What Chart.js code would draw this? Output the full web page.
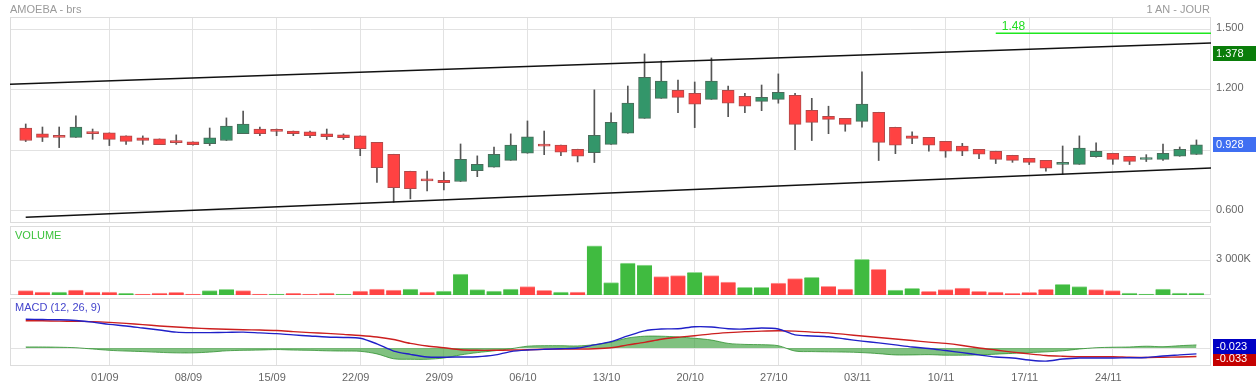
<!DOCTYPE html>
<html><head><meta charset="utf-8">
<script src="https://cdn.jsdelivr.net/npm/chart.js@4.4.1/dist/chart.umd.min.js"></script>
<style>
html,body{margin:0;padding:0;background:#fff;width:1256px;height:387px;overflow:hidden;font-family:"Liberation Sans",Arial,sans-serif;}
canvas{position:absolute;left:0;}
.lbl{position:absolute;font-size:11px;line-height:13px;white-space:nowrap;}
</style>
</head><body>
<canvas id="cMain" width="1256" height="225" style="top:0px"></canvas>
<canvas id="cVol" width="1256" height="72" style="top:225px"></canvas>
<canvas id="cMacd" width="1256" height="90" style="top:297px"></canvas>
<div class="lbl" style="left:10px;top:3px;color:#9a9a9a">AMOEBA - brs</div>
<div class="lbl" style="right:46px;top:3px;color:#9a9a9a">1 AN - JOUR</div>
<div class="lbl" style="left:15px;top:229px;color:#3cc23c">VOLUME</div>
<div class="lbl" style="left:15px;top:301px;color:#4444cc">MACD (12, 26, 9)</div>
<script>
// ---------- DATA ----------
const dates = ['25/08','26/08','27/08','28/08','29/08',
'01/09','02/09','03/09','04/09','05/09',
'08/09','09/09','10/09','11/09','12/09',
'15/09','16/09','17/09','18/09','19/09',
'22/09','23/09','24/09','25/09','26/09',
'29/09','30/09','01/10','02/10','03/10',
'06/10','07/10','08/10','09/10','10/10',
'13/10','14/10','15/10','16/10','17/10',
'20/10','21/10','22/10','23/10','24/10',
'27/10','28/10','29/10','30/10','31/10',
'03/11','04/11','05/11','06/11','07/11',
'10/11','11/11','12/11','13/11','14/11',
'17/11','18/11','19/11','20/11','21/11',
'24/11','25/11','26/11','27/11','28/11',
'01/12'];

const weekTicks = ['01/09','08/09','15/09','22/09','29/09','06/10','13/10','20/10','27/10','03/11','10/11','17/11','24/11'];

const open  = [1.011,0.982,0.972,0.965,0.992,0.987,0.972,0.962,0.957,0.947,
0.942,0.934,0.949,0.983,1.006,0.996,0.996,0.992,0.982,0.977,
0.972,0.940,0.881,0.797,0.757,0.752,0.746,0.800,0.817,0.851,
0.886,0.927,0.926,0.906,0.889,0.930,0.985,1.059,1.158,1.198,
1.183,1.153,1.198,1.168,1.143,1.153,1.173,1.099,1.069,1.059,
1.044,1.089,1.015,0.972,0.965,0.945,0.921,0.906,0.896,0.876,
0.861,0.851,0.831,0.831,0.869,0.886,0.871,0.855,0.856,0.871,0.880];
const high  = [1.031,1.016,1.016,1.071,1.006,0.987,0.972,0.972,0.957,0.977,
0.942,1.011,1.061,1.095,1.016,1.006,0.996,0.996,1.006,0.982,
0.972,0.940,0.881,0.797,0.798,0.793,0.932,0.873,0.917,0.982,
1.046,0.996,0.926,0.906,1.200,1.086,1.219,1.378,1.343,1.249,
1.239,1.358,1.219,1.183,1.224,1.279,1.183,1.158,1.119,1.059,
1.289,1.089,1.015,0.992,0.965,0.945,0.935,0.906,0.896,0.876,
0.861,0.851,0.922,0.972,0.937,0.886,0.871,0.879,0.932,0.917,0.952];
const low   = [0.944,0.944,0.914,0.965,0.955,0.924,0.930,0.930,0.929,0.930,
0.926,0.924,0.949,0.983,0.973,0.973,0.973,0.963,0.954,0.954,
0.874,0.741,0.643,0.660,0.699,0.704,0.746,0.770,0.817,0.851,
0.886,0.879,0.874,0.843,0.840,0.930,0.985,1.059,1.158,1.087,
1.013,1.153,1.067,1.087,1.097,1.134,0.904,0.949,0.983,0.995,
1.015,0.850,0.884,0.934,0.896,0.866,0.874,0.859,0.835,0.841,
0.830,0.797,0.782,0.831,0.866,0.831,0.830,0.845,0.851,0.871,0.880];
const close = [0.949,0.965,0.965,1.016,0.983,0.955,0.945,0.950,0.929,0.939,
0.929,0.962,1.021,1.031,0.983,0.994,0.983,0.973,0.968,0.963,
0.909,0.815,0.716,0.711,0.749,0.740,0.856,0.831,0.881,0.926,
0.967,0.921,0.891,0.871,0.975,1.039,1.134,1.262,1.244,1.163,
1.129,1.244,1.134,1.119,1.163,1.188,1.029,1.039,1.054,1.029,
1.129,0.940,0.926,0.960,0.926,0.896,0.896,0.881,0.856,0.851,
0.841,0.812,0.836,0.912,0.896,0.856,0.846,0.857,0.886,0.906,0.928];

// volume in thousands, and bar direction (1 = green, 0 = red)
const volume = [375,260,260,433,260,260,144,87,173,231,
87,375,490,375,87,87,144,87,173,87,
346,519,433,519,260,346,1818,462,346,519,
721,404,260,260,4241,1067,2770,2597,1587,1673,
1962,1673,1125,664,664,1039,1414,1529,750,519,
3087,2221,433,577,317,462,606,317,260,144,
231,490,923,721,462,375,173,87,519,173,173];
const volumeUp = [0,0,1,0,0,0,1,0,0,0,
0,1,1,0,0,1,0,0,0,1,
0,0,0,1,0,1,1,1,1,1,
0,0,1,0,1,1,1,1,0,0,
1,0,0,1,1,0,0,1,0,0,
1,0,1,1,0,0,0,0,0,0,
0,0,1,1,0,0,1,1,1,1,1];

const macdLine = [0.112,0.111,0.110,0.107,0.101,0.092,0.086,0.078,0.070,0.062,
0.060,0.060,0.061,0.062,0.059,0.056,0.051,0.047,0.043,0.041,
0.038,0.016,-0.012,-0.025,-0.035,-0.036,-0.035,-0.034,-0.028,-0.014,
-0.008,-0.005,-0.003,0.000,0.012,0.025,0.047,0.067,0.074,0.075,
0.083,0.082,0.075,0.074,0.078,0.074,0.051,0.047,0.044,0.035,
0.027,0.020,0.012,0.004,-0.002,-0.010,-0.018,-0.027,-0.035,-0.039,
-0.047,-0.051,-0.043,-0.039,-0.039,-0.039,-0.038,-0.037,-0.031,-0.027,-0.023];
const signalLine = [0.106,0.106,0.105,0.104,0.103,0.100,0.096,0.091,0.086,0.082,
0.078,0.075,0.073,0.071,0.070,0.068,0.064,0.060,0.057,0.053,
0.049,0.043,0.033,0.018,0.008,0.001,-0.007,-0.009,-0.009,-0.008,
-0.007,-0.005,-0.004,-0.004,-0.003,0.001,0.012,0.022,0.034,0.042,
0.048,0.055,0.060,0.064,0.066,0.067,0.066,0.062,0.059,0.053,
0.047,0.041,0.035,0.029,0.023,0.018,0.010,0.000,-0.008,-0.016,
-0.023,-0.029,-0.032,-0.034,-0.034,-0.034,-0.036,-0.037,-0.036,-0.035,-0.033];
const macdHist = [0.004,0.004,0.003,0.001,-0.004,-0.009,-0.012,-0.014,-0.017,-0.019,
-0.019,-0.016,-0.011,-0.009,-0.008,-0.006,-0.008,-0.009,-0.011,-0.012,
-0.013,-0.023,-0.042,-0.044,-0.044,-0.039,-0.027,-0.018,-0.011,-0.003,
0.007,0.009,0.009,0.008,0.013,0.023,0.039,0.046,0.046,0.043,
0.038,0.031,0.018,0.014,0.013,0.009,-0.012,-0.014,-0.015,-0.016,
-0.018,-0.022,-0.027,-0.027,-0.026,-0.028,-0.028,-0.027,-0.024,-0.021,
-0.018,-0.015,-0.011,-0.004,0.001,0.003,0.004,0.007,0.005,0.009,0.012];

// channel lines and resistance level (price values at candle indexes)
const channelUpper = [{x:-0.94, y:1.228},{x:70.87, y:1.432}];
const channelLower = [{x:0, y:0.569},{x:70.87, y:0.813}];
const resistanceLevel = 1.48;
const resistanceFrom = 58;
const periodHigh = 1.378;
const priceTicks = [0.6, 0.9, 1.2, 1.5];
const volumeTicks = [3000];
const macdTicks = [0];

// ---------- STYLE / LAYOUT ----------
Chart.defaults.font.family = '"Liberation Sans", Arial, sans-serif';
Chart.defaults.font.size = 11;
const X_MIN = -0.94, X_MAX = 70.87;
const GRID = '#e2e2e2';
const UP_BODY = '#33966a', UP_EDGE = '#4a6b5a';
const DN_BODY = '#ff4242', DN_EDGE = '#b04a4a';

function xAxis(showLabels){
  return {
    type:'linear', min:X_MIN, max:X_MAX, offset:false,
    grid:{color:GRID, drawTicks:false, offset:false}, border:{display:false},
    afterBuildTicks: s => { s.ticks = weekTicks.map(l => ({value: dates.indexOf(l)})); },
    ticks:{display:showLabels, autoSkip:false, maxRotation:0, minRotation:0, padding:5, labelOffset:-4.5, color:'#666',
      callback: v => dates[v]},
    afterFit: s => { s.height = showLabels ? 21 : 0; s.paddingLeft = 0; s.paddingRight = 0; }
  };
}
function yAxis(min, max, tickVals, fmt, showLabels){
  return {
    position:'right', min:min, max:max,
    grid:{color:GRID, drawTicks:false}, border:{display:false},
    afterBuildTicks: s => { s.ticks = tickVals.map(v => ({value:v})); },
    ticks:{display:showLabels, padding:5, color:'#666', labelOffset:-1.5, callback: fmt},
    afterFit: s => { s.width = 45; s.paddingTop = 0; s.paddingBottom = 0; }
  };
}
const frame = {
  id:'frame',
  beforeDatasetsDraw(chart){
    const {ctx, chartArea:a} = chart;
    ctx.save(); ctx.strokeStyle = '#dcdcdc'; ctx.lineWidth = 1;
    ctx.strokeRect(Math.round(a.left)+0.5, Math.round(a.top)+0.5, Math.round(a.right-a.left)-1, Math.round(a.bottom-a.top)-1);
    ctx.restore();
  }
};
function boxPlugin(id, itemsFn){
  return { id:id, afterDraw(chart){
    const ctx = chart.ctx;
    ctx.save();
    itemsFn(chart).forEach(it => {
      ctx.fillStyle = it.color;
      ctx.fillRect(1213, Math.round(it.y - 7.5), 43, 15);
      ctx.fillStyle = '#fff';
      ctx.font = '11px "Liberation Sans", Arial, sans-serif';
      ctx.textBaseline = 'middle'; ctx.textAlign = 'left';
      ctx.fillText(it.text, 1216, it.y + 0.5);
    });
    ctx.restore();
  }};
}
const noPlug = {legend:{display:false}, tooltip:{enabled:false}, title:{display:false}};
const idx = dates.map((d,i) => i);

// ---------- MAIN (candles) ----------
const resistanceText = {
  id:'resText',
  afterDatasetsDraw(chart){
    const ctx = chart.ctx, xs = chart.scales.x, ys = chart.scales.y;
    ctx.save();
    ctx.fillStyle = '#22dd22';
    ctx.font = '12px "Liberation Sans", Arial, sans-serif';
    ctx.textBaseline = 'middle'; ctx.textAlign = 'left';
    ctx.fillText(resistanceLevel.toFixed(2), xs.getPixelForValue(resistanceFrom) + 6, ys.getPixelForValue(resistanceLevel) - 6.5);
    ctx.restore();
  }
};
new Chart(document.getElementById('cMain'), {
  type:'bar',
  data:{ datasets:[
    { type:'bar', label:'body', order:1, grouped:false, barThickness:12, minBarLength:2,
      data: idx.map(i => ({x:i, y:[open[i], close[i]]})),
      backgroundColor: idx.map(i => close[i] >= open[i] ? UP_BODY : DN_BODY),
      borderColor: idx.map(i => close[i] >= open[i] ? UP_EDGE : DN_EDGE),
      borderWidth:1, borderSkipped:false },
    { type:'bar', label:'wick', order:2, grouped:false, barThickness:1,
      data: idx.map(i => ({x:i, y:[low[i], high[i]]})),
      backgroundColor:'#555', borderWidth:0 },
    { type:'line', label:'upper', order:0, data:channelUpper, borderColor:'#111', borderWidth:1.4, pointRadius:0, fill:false },
    { type:'line', label:'lower', order:0, data:channelLower, borderColor:'#111', borderWidth:1.4, pointRadius:0, fill:false },
    { type:'line', label:'res', order:0, data:[{x:resistanceFrom, y:resistanceLevel},{x:X_MAX, y:resistanceLevel}], borderColor:'#1ee81e', borderWidth:1.5, pointRadius:0, fill:false }
  ]},
  options:{
    responsive:false, animation:false, devicePixelRatio:1,
    layout:{padding:{left:10, right:0, top:17, bottom:2}},
    plugins: noPlug,
    scales:{ x: xAxis(false), y: yAxis(0.5405, 1.5609, priceTicks, v => Number(v).toFixed(3), true) }
  },
  plugins:[frame, resistanceText, boxPlugin('boxMain', ch => {
    const ys = ch.scales.y;
    return [
      {y: ys.getPixelForValue(periodHigh), color:'#0a7d0a', text: periodHigh.toFixed(3)},
      {y: ys.getPixelForValue(close[close.length-1]), color:'#3f6ff2', text: close[close.length-1].toFixed(3)}
    ];
  })]
});

// ---------- VOLUME ----------
new Chart(document.getElementById('cVol'), {
  type:'bar',
  data:{ datasets:[{
    data: idx.map(i => ({x:i, y:volume[i]})),
    barThickness:15, grouped:false,
    backgroundColor: idx.map(i => volumeUp[i] ? '#40bb40' : '#ff4444'),
    borderColor: idx.map(i => volumeUp[i] ? '#98dc98' : '#ff9c9c'),
    borderWidth:{top:1, left:0, right:0, bottom:0}, borderSkipped:'bottom'
  }]},
  options:{
    responsive:false, animation:false, devicePixelRatio:1,
    layout:{padding:{left:10, right:0, top:1, bottom:2}},
    plugins: noPlug,
    scales:{ x: xAxis(false), y: yAxis(0, 5965, volumeTicks, v => Math.floor(v/1000) + ' ' + String(v % 1000).padStart(3,'0') + 'K', true) }
  },
  plugins:[frame]
});

// ---------- MACD ----------
new Chart(document.getElementById('cMacd'), {
  type:'line',
  data:{ datasets:[
    { label:'MACD', order:0, data: idx.map(i => ({x:i, y:macdLine[i]})), borderColor:'#2020c8', borderWidth:1.4, pointRadius:0, tension:0.3, fill:false },
    { label:'Signal', order:1, data: idx.map(i => ({x:i, y:signalLine[i]})), borderColor:'#cc1f1f', borderWidth:1.4, pointRadius:0, tension:0.3, fill:false },
    { label:'Hist', order:2, data: idx.map(i => ({x:i, y:macdHist[i]})), borderColor:'rgba(40,140,40,0.75)', backgroundColor:'rgba(50,155,50,0.62)', borderWidth:1, pointRadius:0, tension:0.3, fill:'origin' }
  ]},
  options:{
    responsive:false, animation:false, devicePixelRatio:1,
    layout:{padding:{left:10, right:0, top:1, bottom:0}},
    plugins: noPlug,
    scales:{ x: xAxis(true), y: yAxis(-0.0702, 0.195, macdTicks, v => v, false) }
  },
  plugins:[frame, boxPlugin('boxMacd', ch => {
    const ys = ch.scales.y;
    const sLast = signalLine[signalLine.length-1], mLast = macdLine[macdLine.length-1];
    const redY = ys.getPixelForValue(sLast) + 2.5;
    const blueY = Math.min(ys.getPixelForValue(mLast), redY - 12.7);
    return [
      {y: redY, color:'#c40000', text: sLast.toFixed(3)},
      {y: blueY, color:'#0000c4', text: mLast.toFixed(3)}
    ];
  })]
});
</script>
</body></html>
